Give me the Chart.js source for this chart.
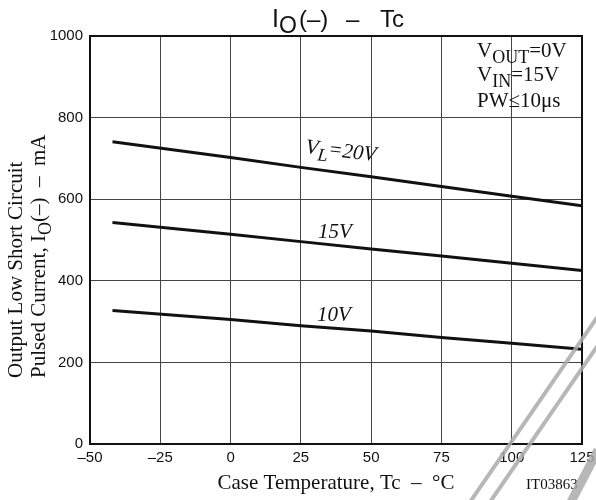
<!DOCTYPE html>
<html>
<head>
<meta charset="utf-8">
<script src="https://cdn.jsdelivr.net/npm/chart.js@4"></script>
<style>
  html, body { margin: 0; padding: 0; background: #fff; }
  canvas { display: block; }
</style>
</head>
<body>
<canvas id="chart" width="596" height="500"></canvas>
<script>
const temps = [-42, 0, 25, 50, 75, 100, 125];
// output low short circuit pulsed current, mA
const vl20 = [741, 702, 678, 655, 631, 607, 584];
const vl15 = [543, 514, 496, 478, 461, 443, 425];
const vl10 = [327, 305, 290, 277, 261, 247, 232];

const xTicks = [-50, -25, 0, 25, 50, 75, 100, 125];
const yTicks = [0, 200, 400, 600, 800, 1000];

const toPoints = vals => temps.map((t, i) => ({ x: t, y: vals[i] }));

const SERIF = '"Liberation Serif", "Times New Roman", serif';
const SANS = '"Liberation Sans", Arial, sans-serif';

// draws text made of pieces, some of them subscripts
function richText(ctx, parts, x, y, size, family, style) {
  let cx = x;
  parts.forEach(p => {
    const s = p.sub ? Math.round(size * 0.85) : size;
    ctx.font = (style || '') + ' ' + s + 'px ' + family;
    ctx.fillText(p.t, cx, y + (p.sub ? size * 0.28 : 0));
    cx += ctx.measureText(p.t).width;
  });
  return cx - x;
}

const annotations = {
  id: 'annotations',
  afterDraw(chart) {
    const ctx = chart.ctx;
    const a = chart.chartArea;
    ctx.save();
    ctx.fillStyle = '#111';
    ctx.textBaseline = 'alphabetic';
    ctx.textAlign = 'left';

    // frame
    ctx.strokeStyle = '#111';
    ctx.lineWidth = 2;
    ctx.strokeRect(a.left, a.top, a.right - a.left, a.bottom - a.top);

    // title
    ctx.font = '25px ' + SANS;
    ctx.fillText('I', 272, 27);
    ctx.font = '23px ' + SANS;
    ctx.fillText('O', 279, 33);
    ctx.font = '24px ' + SANS;
    ctx.fillText('(\u2013)', 299, 27);
    ctx.fillText('\u2013', 346, 27);
    ctx.font = '24px ' + SANS;
    ctx.fillText('Tc', 380, 27);

    // conditions
    richText(ctx, [{t: 'V'}, {t: 'OUT', sub: true}, {t: '=0V'}], 477, 57, 21, SERIF);
    richText(ctx, [{t: 'V'}, {t: 'IN', sub: true}, {t: '=15V'}], 477, 81, 21, SERIF);
    richText(ctx, [{t: 'PW\u226410\u03bcs'}], 477, 107, 21, SERIF);

    // curve labels
    ctx.save();
    ctx.translate(305, 153);
    ctx.rotate(6.5 * Math.PI / 180);
    richText(ctx, [{t: 'V'}, {t: 'L', sub: true}, {t: '=20V'}], 0, 0, 21, SERIF, 'italic');
    ctx.restore();
    richText(ctx, [{t: '15V'}], 318, 238, 21, SERIF, 'italic');
    richText(ctx, [{t: '10V'}], 317, 321, 21, SERIF, 'italic');

    // x axis title
    ctx.font = '21px ' + SERIF;
    ctx.textAlign = 'center';
    ctx.fillText('Case Temperature, Tc  \u2013  \u00b0C', 336, 489);
    ctx.font = '15px ' + SERIF;
    ctx.textAlign = 'left';
    ctx.fillText('IT03863', 526, 489);

    // y axis title, two rotated lines starting at the same height
    ctx.save();
    ctx.rotate(-Math.PI / 2);
    richText(ctx, [{t: 'Output Low Short Circuit'}], -378, 22, 21, SERIF);
    richText(ctx, [{t: 'Pulsed Current, I'}, {t: 'O', sub: true}, {t: '(\u2013)  \u2013  mA'}], -378, 45, 21, SERIF);
    ctx.restore();

    // watermark stripes
    ctx.strokeStyle = 'rgba(170,170,170,0.85)';
    ctx.lineWidth = 4;
    ctx.beginPath();
    ctx.moveTo(470, 502); ctx.lineTo(598, 316);
    ctx.moveTo(490, 502); ctx.lineTo(598, 345);
    ctx.stroke();
    ctx.lineWidth = 9;
    ctx.beginPath();
    ctx.moveTo(571, 502); ctx.lineTo(598, 450);
    ctx.stroke();
    ctx.restore();
  }
};

const lineStyle = {
  borderColor: '#111',
  borderWidth: 3,
  pointRadius: 0,
  showLine: true,
  fill: false,
  tension: 0
};

new Chart(document.getElementById('chart'), {
  type: 'scatter',
  data: {
    datasets: [
      Object.assign({ label: 'VL=20V', data: toPoints(vl20) }, lineStyle),
      Object.assign({ label: '15V', data: toPoints(vl15) }, lineStyle),
      Object.assign({ label: '10V', data: toPoints(vl10) }, lineStyle)
    ]
  },
  options: {
    responsive: false,
    animation: false,
    layout: { padding: { top: 36, right: 14, left: 0, bottom: 0 } },
    plugins: {
      legend: { display: false },
      tooltip: { enabled: false }
    },
    scales: {
      x: {
        type: 'linear',
        min: -50,
        max: 125,
        afterBuildTicks: s => { s.ticks = xTicks.map(v => ({ value: v })); },
        afterFit: s => { s.height = 56; s.paddingLeft = 0; s.paddingRight = 0; },
        grid: { color: '#444', lineWidth: 1, drawTicks: false },
        border: { color: '#111', width: 2 },
        ticks: {
          padding: 5,
          color: '#111',
          font: { family: SANS, size: 15 },
          callback: v => (v < 0 ? '\u2013' + Math.abs(v) : String(v))
        }
      },
      y: {
        min: 0,
        max: 1000,
        afterBuildTicks: s => { s.ticks = yTicks.map(v => ({ value: v })); },
        afterFit: s => { s.width = 90; s.paddingTop = 0; s.paddingBottom = 0; },
        grid: { color: '#444', lineWidth: 1, drawTicks: false },
        border: { color: '#111', width: 2 },
        ticks: {
          padding: 7,
          color: '#111',
          font: { family: SANS, size: 15 },
          callback: v => String(v)
        }
      }
    }
  },
  plugins: [annotations]
});
</script>
</body>
</html>
